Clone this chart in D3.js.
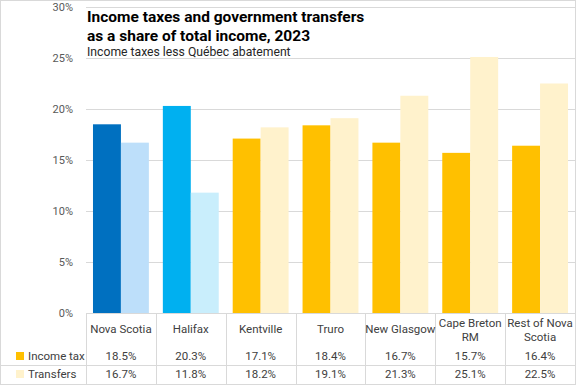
<!DOCTYPE html>
<html>
<head>
<meta charset="utf-8">
<script src="https://cdn.jsdelivr.net/npm/d3@7"></script>
<style>
  body { margin: 0; background: #fff; }
  text { font-family: Roboto, "Noto Sans", sans-serif; }
</style>
</head>
<body>
<script>
// Data
const categories = ["Nova Scotia", "Halifax", "Kentville", "Truro", "New Glasgow", "Cape Breton RM", "Rest of Nova Scotia"];
const categoryLines = [["Nova Scotia"], ["Halifax"], ["Kentville"], ["Truro"], ["New Glasgow"], ["Cape Breton", "RM"], ["Rest of Nova", "Scotia"]];
const incomeTax = [18.5, 20.3, 17.1, 18.4, 16.7, 15.7, 16.4];
const transfers = [16.7, 11.8, 18.2, 19.1, 21.3, 25.1, 22.5];
const yTicks = [0, 5, 10, 15, 20, 25, 30];
const seriesNames = ["Income tax", "Transfers"];

// Colours
const taxColors = ["#0070C0", "#00B0F0", "#FFC000", "#FFC000", "#FFC000", "#FFC000", "#FFC000"];
const transferColors = ["#BDDFFA", "#C9EEFC", "#FFF2CC", "#FFF2CC", "#FFF2CC", "#FFF2CC", "#FFF2CC"];

const config = { width: 576, height: 385 };
const plot = { left: 86, right: 575, top: 7, bottom: 313 };

const svg = d3.select("body").append("svg")
  .attr("width", config.width)
  .attr("height", config.height);

// Outer border
svg.append("rect")
  .attr("x", 0.5).attr("y", 0.5)
  .attr("width", config.width - 1).attr("height", config.height - 1)
  .attr("fill", "#fff").attr("stroke", "#d9d9d9");

const x = d3.scaleBand().domain(categories).range([plot.left, plot.right]);
const inner = d3.scaleBand().domain(seriesNames).range([0, x.bandwidth()]).paddingOuter(0.25);
const y = d3.scaleLinear().domain([0, 30]).range([plot.bottom, plot.top]);

// Gridlines
svg.append("g").selectAll("line")
  .data(yTicks.slice(1))
  .enter().append("line")
  .attr("x1", plot.left).attr("x2", plot.right)
  .attr("y1", d => Math.round(y(d)) + 0.5).attr("y2", d => Math.round(y(d)) + 0.5)
  .attr("stroke", "#d9d9d9");

// Y labels
svg.append("g").selectAll("text")
  .data(yTicks)
  .enter().append("text")
  .attr("x", 73).attr("y", d => y(d) + 4)
  .attr("text-anchor", "end")
  .attr("font-size", 11)
  .attr("fill", "#595959")
  .text(d => d + "%");

// Bars
const groups = svg.append("g").selectAll("g")
  .data(categories)
  .enter().append("g")
  .attr("transform", d => `translate(${x(d)},0)`);

groups.append("rect")
  .attr("x", inner("Income tax"))
  .attr("width", inner.bandwidth())
  .attr("y", (d, i) => y(incomeTax[i]))
  .attr("height", (d, i) => y(0) - y(incomeTax[i]))
  .attr("fill", (d, i) => taxColors[i]);

groups.append("rect")
  .attr("x", inner("Transfers"))
  .attr("width", inner.bandwidth())
  .attr("y", (d, i) => y(transfers[i]))
  .attr("height", (d, i) => y(0) - y(transfers[i]))
  .attr("fill", (d, i) => transferColors[i]);

// Data table
const table = svg.append("g");
const rowLine = 365, tableBottom = 384;

table.append("line")
  .attr("x1", plot.left).attr("x2", plot.right)
  .attr("y1", plot.bottom + 0.5).attr("y2", plot.bottom + 0.5)
  .attr("stroke", "#d9d9d9");
table.append("line")
  .attr("x1", 0).attr("x2", config.width)
  .attr("y1", rowLine + 0.5).attr("y2", rowLine + 0.5)
  .attr("stroke", "#d9d9d9");

table.selectAll(".vline")
  .data(categories.concat(["end"]))
  .enter().append("line")
  .attr("class", "vline")
  .attr("x1", (d, i) => Math.round(plot.left + i * x.step()) + 0.5)
  .attr("x2", (d, i) => Math.round(plot.left + i * x.step()) + 0.5)
  .attr("y1", plot.bottom).attr("y2", tableBottom)
  .attr("stroke", "#d9d9d9");

// Category labels
table.selectAll(".cat")
  .data(categoryLines)
  .enter().append("text")
  .attr("class", "cat")
  .attr("text-anchor", "middle")
  .attr("font-size", 11.5)
  .attr("fill", "#404040")
  .attr("x", (d, i) => x(categories[i]) + x.bandwidth() / 2)
  .attr("y", d => d.length > 1 ? 327 : 333)
  .selectAll("tspan")
  .data(d => d)
  .enter().append("tspan")
  .attr("x", function () { return d3.select(this.parentNode).attr("x"); })
  .attr("dy", (d, i) => i === 0 ? 0 : 14)
  .text(d => d);

// Value rows
const rows = [
  { name: seriesNames[0], values: incomeTax, color: "#FFC000", y: 360 },
  { name: seriesNames[1], values: transfers, color: "#FFF2CC", y: 378 }
];

rows.forEach(r => {
  table.append("rect")
    .attr("x", 16).attr("y", r.y - 8)
    .attr("width", 8).attr("height", 8)
    .attr("fill", r.color);
  table.append("text")
    .attr("x", 28).attr("y", r.y)
    .attr("font-size", 11.5)
    .attr("fill", "#404040")
    .text(r.name);
  table.selectAll(null)
    .data(r.values)
    .enter().append("text")
    .attr("x", (d, i) => x(categories[i]) + x.bandwidth() / 2)
    .attr("y", r.y)
    .attr("text-anchor", "middle")
    .attr("font-size", 11.5)
    .attr("fill", "#404040")
    .text(d => d.toFixed(1) + "%");
});

// Title
svg.append("text")
  .attr("x", 87).attr("y", 22)
  .attr("font-size", 15.5)
  .attr("font-weight", "bold")
  .attr("fill", "#000")
  .text("Income taxes and government transfers");
svg.append("text")
  .attr("x", 87).attr("y", 41)
  .attr("font-size", 15.5)
  .attr("font-weight", "bold")
  .attr("fill", "#000")
  .text("as a share of total income, 2023");
svg.append("text")
  .attr("x", 87).attr("y", 56)
  .attr("font-size", 12.2)
  .attr("fill", "#262626")
  .text("Income taxes less Québec abatement");
</script>
</body>
</html>
